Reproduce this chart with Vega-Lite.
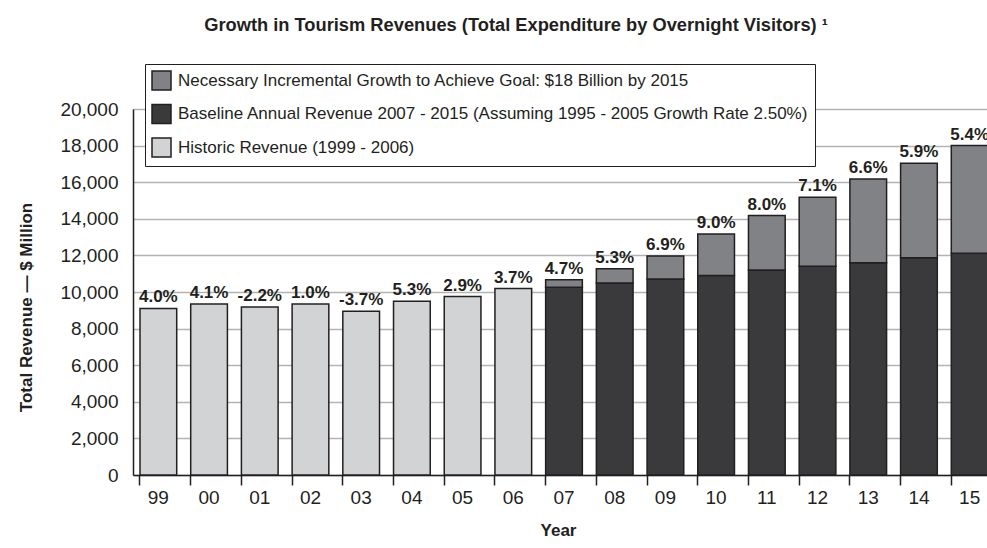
{
  "$schema": "https://vega.github.io/schema/vega-lite/v6.json",
  "width": 854,
  "height": 366,
  "autosize": {"type": "none"},
  "padding": {"left": 133, "top": 109, "right": 0, "bottom": 73},
  "background": "white",
  "config": {
    "font": "Liberation Sans, sans-serif",
    "view": {"stroke": null}
  },
  "title": {
    "text": "Growth in Tourism Revenues (Total Expenditure by Overnight Visitors) ¹",
    "fontSize": 18.3,
    "fontWeight": "bold",
    "anchor": "middle",
    "frame": "group",
    "dx": -44,
    "offset": 14,
    "baseline": "alphabetic",
    "color": "#231f20"
  },
  "datasets": {
    "bars": [
      {"year": "99", "series": "Historic Revenue (1999 - 2006)", "revenue": 9100, "ord": 0},
      {"year": "00", "series": "Historic Revenue (1999 - 2006)", "revenue": 9350, "ord": 0},
      {"year": "01", "series": "Historic Revenue (1999 - 2006)", "revenue": 9186, "ord": 0},
      {"year": "02", "series": "Historic Revenue (1999 - 2006)", "revenue": 9350, "ord": 0},
      {"year": "03", "series": "Historic Revenue (1999 - 2006)", "revenue": 8953, "ord": 0},
      {"year": "04", "series": "Historic Revenue (1999 - 2006)", "revenue": 9496, "ord": 0},
      {"year": "05", "series": "Historic Revenue (1999 - 2006)", "revenue": 9750, "ord": 0},
      {"year": "06", "series": "Historic Revenue (1999 - 2006)", "revenue": 10185, "ord": 0},
      {"year": "07", "series": "Baseline Annual Revenue 2007 - 2015 (Assuming 1995 - 2005 Growth Rate 2.50%)", "revenue": 10255, "ord": 0},
      {"year": "08", "series": "Baseline Annual Revenue 2007 - 2015 (Assuming 1995 - 2005 Growth Rate 2.50%)", "revenue": 10490, "ord": 0},
      {"year": "09", "series": "Baseline Annual Revenue 2007 - 2015 (Assuming 1995 - 2005 Growth Rate 2.50%)", "revenue": 10707, "ord": 0},
      {"year": "10", "series": "Baseline Annual Revenue 2007 - 2015 (Assuming 1995 - 2005 Growth Rate 2.50%)", "revenue": 10906, "ord": 0},
      {"year": "11", "series": "Baseline Annual Revenue 2007 - 2015 (Assuming 1995 - 2005 Growth Rate 2.50%)", "revenue": 11196, "ord": 0},
      {"year": "12", "series": "Baseline Annual Revenue 2007 - 2015 (Assuming 1995 - 2005 Growth Rate 2.50%)", "revenue": 11412, "ord": 0},
      {"year": "13", "series": "Baseline Annual Revenue 2007 - 2015 (Assuming 1995 - 2005 Growth Rate 2.50%)", "revenue": 11593, "ord": 0},
      {"year": "14", "series": "Baseline Annual Revenue 2007 - 2015 (Assuming 1995 - 2005 Growth Rate 2.50%)", "revenue": 11865, "ord": 0},
      {"year": "15", "series": "Baseline Annual Revenue 2007 - 2015 (Assuming 1995 - 2005 Growth Rate 2.50%)", "revenue": 12118, "ord": 0},
      {"year": "07", "series": "Necessary Incremental Growth to Achieve Goal: $18 Billion by 2015", "revenue": 418, "ord": 1},
      {"year": "08", "series": "Necessary Incremental Growth to Achieve Goal: $18 Billion by 2015", "revenue": 778, "ord": 1},
      {"year": "09", "series": "Necessary Incremental Growth to Achieve Goal: $18 Billion by 2015", "revenue": 1266, "ord": 1},
      {"year": "10", "series": "Necessary Incremental Growth to Achieve Goal: $18 Billion by 2015", "revenue": 2261, "ord": 1},
      {"year": "11", "series": "Necessary Incremental Growth to Achieve Goal: $18 Billion by 2015", "revenue": 2984, "ord": 1},
      {"year": "12", "series": "Necessary Incremental Growth to Achieve Goal: $18 Billion by 2015", "revenue": 3762, "ord": 1},
      {"year": "13", "series": "Necessary Incremental Growth to Achieve Goal: $18 Billion by 2015", "revenue": 4577, "ord": 1},
      {"year": "14", "series": "Necessary Incremental Growth to Achieve Goal: $18 Billion by 2015", "revenue": 5173, "ord": 1},
      {"year": "15", "series": "Necessary Incremental Growth to Achieve Goal: $18 Billion by 2015", "revenue": 5882, "ord": 1}
    ],
    "labels": [
      {"year": "99", "total": 9100, "pct": "4.0%"},
      {"year": "00", "total": 9350, "pct": "4.1%"},
      {"year": "01", "total": 9186, "pct": "-2.2%"},
      {"year": "02", "total": 9350, "pct": "1.0%"},
      {"year": "03", "total": 8953, "pct": "-3.7%"},
      {"year": "04", "total": 9496, "pct": "5.3%"},
      {"year": "05", "total": 9750, "pct": "2.9%"},
      {"year": "06", "total": 10185, "pct": "3.7%"},
      {"year": "07", "total": 10673, "pct": "4.7%"},
      {"year": "08", "total": 11268, "pct": "5.3%"},
      {"year": "09", "total": 11973, "pct": "6.9%"},
      {"year": "10", "total": 13167, "pct": "9.0%"},
      {"year": "11", "total": 14180, "pct": "8.0%"},
      {"year": "12", "total": 15174, "pct": "7.1%"},
      {"year": "13", "total": 16170, "pct": "6.6%"},
      {"year": "14", "total": 17038, "pct": "5.9%"},
      {"year": "15", "total": 18000, "pct": "5.4%"}
    ]
  },
  "layer": [
    {
      "data": {"name": "bars"},
      "mark": {"type": "bar", "stroke": "#231f20", "strokeWidth": 1.5},
      "encoding": {
        "x": {
          "field": "year",
          "type": "ordinal",
          "scale": {
            "domain": ["99", "00", "01", "02", "03", "04", "05", "06", "07", "08", "09", "10", "11", "12", "13", "14", "15"],
            "range": [0, 862],
            "paddingInner": 0.276,
            "paddingOuter": 0.138
          },
          "axis": {
            "title": "Year",
            "bandPosition": 0,
            "tickSize": 10,
            "tickColor": "#231f20",
            "tickWidth": 1.5,
            "domainColor": "#231f20",
            "domainWidth": 1.5,
            "labelFontSize": 19,
            "labelColor": "#231f20",
            "labelPadding": 3,
            "labelAngle": 0,
            "titleFontSize": 17,
            "titleFontWeight": "bold",
            "titleColor": "#231f20",
            "titleBaseline": "alphabetic",
            "titleY": 60,
            "titleX": 425
          }
        },
        "y": {
          "field": "revenue",
          "type": "quantitative",
          "stack": "zero",
          "scale": {"domain": [0, 20000], "nice": false},
          "axis": {
            "title": "Total Revenue — $ Million",
            "values": [0, 2000, 4000, 6000, 8000, 10000, 12000, 14000, 16000, 18000, 20000],
            "tickCount": 12,
            "format": ",d",
            "ticks": false,
            "grid": true,
            "labelOverlap": false,
            "domainColor": "#231f20",
            "domainWidth": 1.5,
            "gridColor": "#b3b3b3",
            "gridWidth": 1.5,
            "labelFontSize": 19,
            "labelColor": "#231f20",
            "labelPadding": 15,
            "titleFontSize": 17,
            "titleFontWeight": "bold",
            "titleColor": "#231f20",
            "titleBaseline": "alphabetic",
            "titleAlign": "center",
            "titleX": -102,
            "titleY": 198
          }
        },
        "color": {
          "field": "series",
          "type": "nominal",
          "scale": {
            "domain": [
              "Necessary Incremental Growth to Achieve Goal: $18 Billion by 2015",
              "Baseline Annual Revenue 2007 - 2015 (Assuming 1995 - 2005 Growth Rate 2.50%)",
              "Historic Revenue (1999 - 2006)"
            ],
            "range": ["#808285", "#3a3a3c", "#d1d3d4"]
          },
          "legend": {
            "orient": "none",
            "legendX": 12,
            "legendY": -45,
            "title": null,
            "symbolType": "square",
            "symbolSize": 361,
            "symbolStrokeColor": "#231f20",
            "symbolStrokeWidth": 1.5,
            "symbolOpacity": 1,
            "labelFontSize": 17,
            "labelColor": "#231f20",
            "labelOffset": 6,
            "labelLimit": 900,
            "rowPadding": 8.5,
            "padding": 6,
            "strokeColor": "#231f20",
            "fillColor": "white"
          }
        },
        "order": {"field": "ord", "type": "quantitative"}
      }
    },
    {
      "data": {"name": "labels"},
      "mark": {"type": "text", "fontWeight": "bold", "fontSize": 17, "baseline": "alphabetic", "dy": -6, "color": "#231f20"},
      "encoding": {
        "x": {"field": "year", "type": "ordinal"},
        "y": {
          "field": "total",
          "type": "quantitative",
          "axis": {
            "title": "Total Revenue — $ Million",
            "values": [0, 2000, 4000, 6000, 8000, 10000, 12000, 14000, 16000, 18000, 20000],
            "tickCount": 12,
            "format": ",d",
            "ticks": false,
            "grid": true,
            "labelOverlap": false,
            "domainColor": "#231f20",
            "domainWidth": 1.5,
            "gridColor": "#b3b3b3",
            "gridWidth": 1.5,
            "labelFontSize": 19,
            "labelColor": "#231f20",
            "labelPadding": 15,
            "titleFontSize": 17,
            "titleFontWeight": "bold",
            "titleColor": "#231f20",
            "titleBaseline": "alphabetic",
            "titleAlign": "center",
            "titleX": -102,
            "titleY": 198
          }
        },
        "text": {"field": "pct"}
      }
    }
  ]
}
